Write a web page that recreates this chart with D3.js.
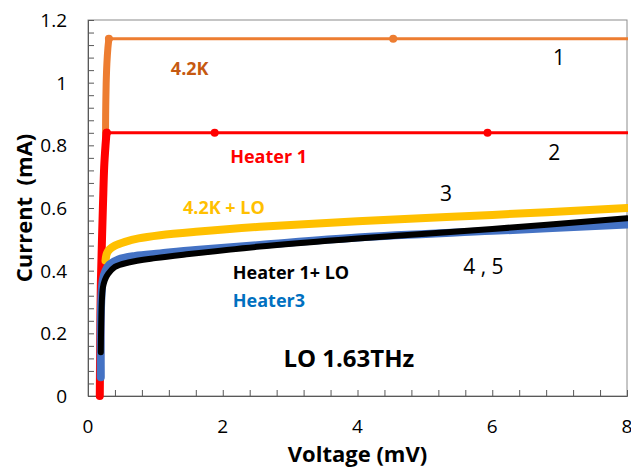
<!DOCTYPE html>
<html>
<head>
<meta charset="utf-8">
<script src="https://cdn.jsdelivr.net/npm/d3@7"></script>
<style>
    body { margin: 0; background: #fff; }
    text { font-family: "Open Sans", "Noto Sans", sans-serif; }
</style>
</head>
<body>
<div id="chart"></div>
<script>
// 4.2K (1): steep rise then flat
var orangeRiseV = [0.26, 0.262, 0.265, 0.27, 0.28, 0.295, 0.31];
var orangeRiseI = [0.82, 0.9, 0.945, 1.0, 1.06, 1.11, 1.14];
var orangeFlatV = [0.31, 4.53, 8.6];
var orangeFlatI = [1.14, 1.14, 1.14];

// Heater 1 (2)
var redRiseV = [0.175, 0.18, 0.19, 0.21, 0.225, 0.24, 0.26, 0.275];
var redRiseI = [0, 0.15, 0.35, 0.52, 0.63, 0.73, 0.8, 0.84];
var redFlatV = [0.28, 1.88, 5.93, 8.6];
var redFlatI = [0.84, 0.84, 0.84, 0.84];

// 4.2K + LO (3)
var yellowV = [0.26, 0.28, 0.32, 0.4, 0.55, 0.75, 1.07, 1.6, 2.55, 4, 6, 8];
var yellowI = [0.432, 0.455, 0.468, 0.48, 0.492, 0.503, 0.513, 0.524, 0.54, 0.558, 0.578, 0.6];

// Heater3 (5)
var blueV = [0.19, 0.19, 0.2, 0.22, 0.26, 0.32, 0.45, 0.7, 1.07, 1.6, 2.55, 4, 6, 8];
var blueI = [0.06, 0.25, 0.32, 0.37, 0.4, 0.42, 0.436, 0.447, 0.455, 0.466, 0.482, 0.506, 0.527, 0.547];

// Heater 1 + LO (4)
var blackV = [0.19, 0.195, 0.205, 0.22, 0.25, 0.3, 0.4, 0.6, 1.0, 1.5, 2.5, 4, 6, 8];
var blackI = [0.14, 0.22, 0.3, 0.345, 0.37, 0.39, 0.412, 0.426, 0.44, 0.453, 0.476, 0.503, 0.533, 0.567];

var xTickLabels = [0, 2, 4, 6, 8];
var yTickLabels = [0, 0.2, 0.4, 0.6, 0.8, 1, 1.2];

// annotation texts and where they sit (data units)
var noteTexts = ["4.2K", "Heater 1", "4.2K + LO", "Heater 1+ LO", "Heater3", "LO 1.63THz", "1", "2", "3", "4 , 5"];
var noteV = [1.23, 2.11, 1.41, 2.15, 2.15, 2.9, 6.9, 6.83, 5.225, 5.57];
var noteI = [1.024, 0.744, 0.58, 0.374, 0.284, 0.093, 1.056, 0.753, 0.622, 0.389];

function zip(vs, is) {
    return vs.map(function(v, k) { return [v, is[k]]; });
}

var w = 631, h = 473;
var padLeft = 88, padRight = 627, padTop = 20, padBottom = 396;

var svg = d3.select("#chart")
    .append("svg")
    .attr("width", w)
    .attr("height", h);

var xScale = d3.scaleLinear().domain([0, 8]).range([padLeft, padRight]);
var yScale = d3.scaleLinear().domain([0, 1.2]).range([padBottom, padTop]);

svg.append("clipPath")
    .attr("id", "clip")
    .append("rect")
    .attr("x", padLeft)
    .attr("y", padTop - 5)
    .attr("width", padRight - padLeft + 1)
    .attr("height", padBottom - padTop + 10);

// frame
svg.append("rect")
    .attr("x", padLeft)
    .attr("y", padTop)
    .attr("width", padRight - padLeft)
    .attr("height", padBottom - padTop)
    .attr("fill", "none")
    .attr("stroke", "#8c8c8c")
    .attr("stroke-width", 1);

// inward ticks
var xAxis = d3.axisTop(xScale)
    .tickValues(d3.range(0, 8.01, 0.4))
    .tickSize(6)
    .tickFormat("");
svg.append("g")
    .attr("class", "axis")
    .attr("transform", "translate(0," + padBottom + ")")
    .call(xAxis);

var yAxis = d3.axisRight(yScale)
    .tickValues(d3.range(0, 1.201, 0.04))
    .tickSize(6)
    .tickFormat("");
svg.append("g")
    .attr("class", "axis")
    .attr("transform", "translate(" + padLeft + ",0)")
    .call(yAxis);

svg.selectAll(".axis path")
    .attr("stroke", "#595959");
svg.selectAll(".axis line")
    .attr("stroke", "#595959");

// tick labels
svg.selectAll(".xlab")
    .data(xTickLabels)
    .enter()
    .append("text")
    .attr("class", "xlab")
    .attr("x", function(d) { return xScale(d); })
    .attr("y", 433)
    .attr("text-anchor", "middle")
    .attr("font-size", 19)
    .attr("fill", "#000")
    .text(function(d) { return d; });

svg.selectAll(".ylab")
    .data(yTickLabels)
    .enter()
    .append("text")
    .attr("class", "ylab")
    .attr("x", padLeft - 21)
    .attr("y", function(d) { return yScale(d) + 7; })
    .attr("text-anchor", "end")
    .attr("font-size", 19)
    .attr("fill", "#000")
    .text(function(d) { return d; });

// axis titles
svg.append("text")
    .attr("x", (padLeft + padRight) / 2)
    .attr("y", 462)
    .attr("text-anchor", "middle")
    .attr("font-size", 22)
    .attr("font-weight", "bold")
    .text("Voltage (mV)");

svg.append("text")
    .attr("transform", "translate(32," + ((padTop + padBottom) / 2) + ") rotate(-90)")
    .attr("text-anchor", "middle")
    .attr("font-size", 22)
    .attr("font-weight", "bold")
    .attr("xml:space", "preserve")
    .text("Current  (mA)");

// curves
var line = d3.line()
    .x(function(d) { return xScale(d[0]); })
    .y(function(d) { return yScale(d[1]); })
    .curve(d3.curveCatmullRom.alpha(0.5));

var flat = d3.line()
    .x(function(d) { return xScale(d[0]); })
    .y(function(d) { return yScale(d[1]); });

var plot = svg.append("g").attr("clip-path", "url(#clip)");

var series = [
    { pts: zip(orangeRiseV, orangeRiseI), gen: line, color: "#ED7D31", width: 7 },
    { pts: zip(orangeFlatV, orangeFlatI), gen: flat, color: "#ED7D31", width: 3, dots: true },
    { pts: zip(redRiseV, redRiseI), gen: line, color: "#FF0000", width: 8 },
    { pts: zip(redFlatV, redFlatI), gen: flat, color: "#FF0000", width: 3, dots: true },
    { pts: zip(yellowV, yellowI), gen: line, color: "#FFC000", width: 8 },
    { pts: zip(blueV, blueI), gen: line, color: "#4472C4", width: 8 },
    { pts: zip(blackV, blackI), gen: line, color: "#000000", width: 6 }
];

series.forEach(function(s) {
    plot.append("path")
        .datum(s.pts)
        .attr("d", s.gen)
        .attr("fill", "none")
        .attr("stroke", s.color)
        .attr("stroke-width", s.width)
        .attr("stroke-linecap", "round")
        .attr("stroke-linejoin", "round");

    if (s.dots) {
        plot.selectAll(null)
            .data(s.pts)
            .enter()
            .append("circle")
            .attr("cx", function(d) { return xScale(d[0]); })
            .attr("cy", function(d) { return yScale(d[1]); })
            .attr("r", 4)
            .attr("fill", s.color);
    }
});

// annotations
var noteColors = ["#C65911", "#FF0000", "#FFC000", "#000000", "#0070C0", "#000000", "#000", "#000", "#000", "#000"];
var noteSizes = [18, 18, 18, 18, 18, 24, 21, 21, 21, 21];
var noteBold = [true, true, true, true, true, true, false, false, false, false];

svg.selectAll(".note")
    .data(noteTexts)
    .enter()
    .append("text")
    .attr("class", "note")
    .attr("x", function(d, k) { return xScale(noteV[k]); })
    .attr("y", function(d, k) { return yScale(noteI[k]); })
    .attr("font-size", function(d, k) { return noteSizes[k]; })
    .attr("font-weight", function(d, k) { return noteBold[k] ? "bold" : "normal"; })
    .attr("fill", function(d, k) { return noteColors[k]; })
    .attr("xml:space", "preserve")
    .text(function(d) { return d; });
</script>
</body>
</html>
